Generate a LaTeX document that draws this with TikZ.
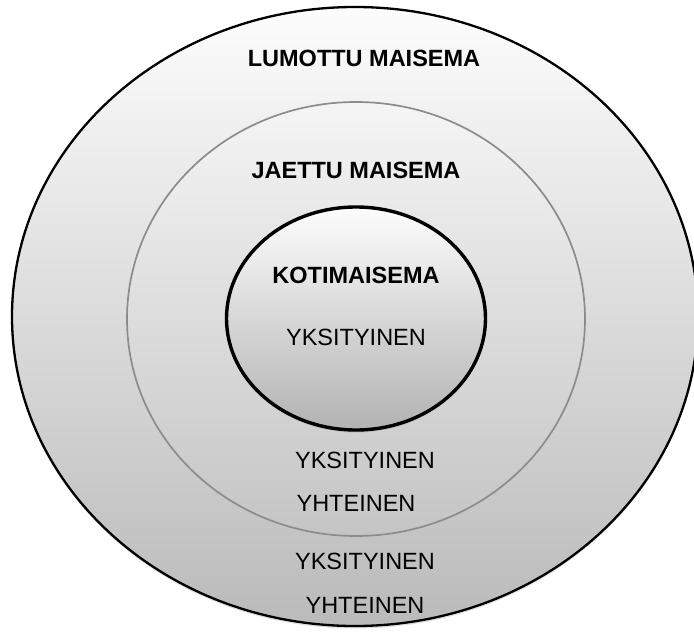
\documentclass[tikz,border=0pt]{standalone}
\usepackage{fontspec}
\setmainfont{Liberation Sans}
\usetikzlibrary{shapes.geometric,shadows}
\begin{document}
\begin{tikzpicture}[x=1pt,y=-1pt,every node/.style={font=\fontsize{23.5}{28}\selectfont},
  ring/.style={ellipse,inner sep=0pt,draw,top color=white,bottom color=black!28},
  lowshadow/.style={drop shadow={shadow xshift=0pt,shadow yshift=-2.5pt,opacity=0.25}}]
\useasboundingbox (0,0) rectangle (694,632);
% the three landscapes
\node[ring,lowshadow,line width=2.3pt,minimum width=686pt,minimum height=619pt,
  top color=black!1,bottom color=black!27] (lumottu) at (355,316.5) {};
\node[ring,draw=black!45,line width=1.7pt,minimum width=458pt,minimum height=434pt,
  top color=black!4,bottom color=black!23] (jaettu) at (356,319) {};
\node[ring,lowshadow,line width=3.4pt,minimum width=259pt,minimum height=223pt,
  top color=black!1,bottom color=black!30] (koti) at (356,318.5) {};
% names
\foreach \n/\x/\y/\t in {lumottuname/364/58/LUMOTTU MAISEMA,jaettuname/356/170/JAETTU MAISEMA,kotiname/356/275/KOTIMAISEMA}
  \node[font=\fontsize{23.5}{28}\selectfont\bfseries] (\n) at (\x,\y) {\t};
% private / shared
\foreach \n/\x/\y/\t in {koti1/356/337/YKSITYINEN,jaettu1/365/460/YKSITYINEN,jaettu2/356/503/YHTEINEN,lumottu1/365/561/YKSITYINEN,lumottu2/365/605/YHTEINEN}
  \node (\n) at (\x,\y) {\t};
\end{tikzpicture}
\end{document}
